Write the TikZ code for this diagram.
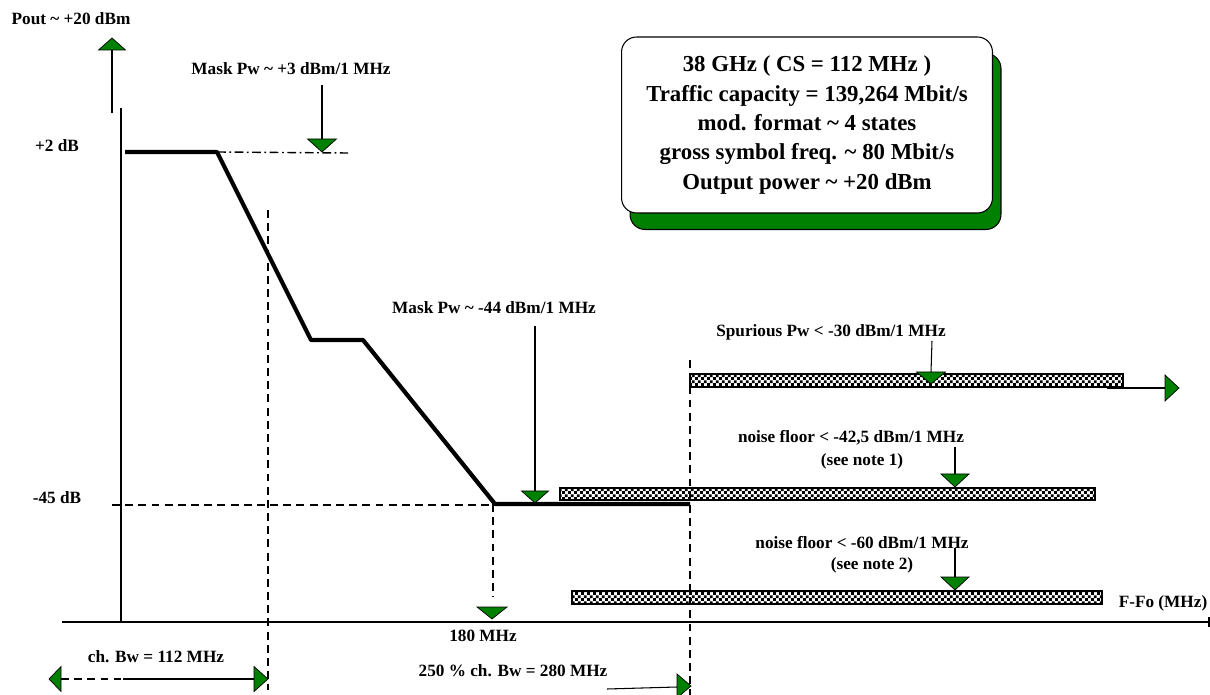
\documentclass[tikz,border=0pt]{standalone}
\usepackage{fontspec}
\setmainfont{Liberation Serif}
\usetikzlibrary{patterns.meta,shadows}
\definecolor{maskgreen}{RGB}{0,128,0}

\tikzdeclarepattern{
  name=barcheck,
  type=uncolored,
  bottom left={(0pt,0pt)},
  top right={(3.6pt,3.6pt)},
  tile size={(3.6pt,3.6pt)},
  code={
    \fill (0pt,0pt) rectangle (1.8pt,1.8pt);
    \fill (1.8pt,1.8pt) rectangle (3.6pt,3.6pt);
  }
}

\begin{document}
\begin{tikzpicture}[x=0.02cm,y=-0.02cm]

	\tikzstyle{lbl} = [font=\fontsize{9.8}{11}\selectfont\bfseries, inner sep=0pt]
	\tikzstyle{infobox} = [rectangle, rounded corners=0.3cm, minimum width=7.42cm, minimum height=3.52cm, align=center, draw=black, fill=white, line width=0.6pt, font=\fontsize{13}{16.7}\selectfont\bfseries, drop shadow={shadow xshift=0.17cm, shadow yshift=-0.33cm, fill=maskgreen, draw=black, opacity=1}]
	\tikzstyle{mask} = [line width=2.4pt, line join=round]
	\tikzstyle{guide} = [line width=0.8pt, dash pattern=on 4.5pt off 3pt]
	\tikzstyle{dashdot} = [line width=0.8pt, dash pattern=on 5pt off 2pt on 1pt off 2pt]
	\tikzstyle{axisline} = [line width=0.6pt]
	\tikzstyle{tri} = [fill=maskgreen, draw=black, line width=0.4pt]
	\tikzstyle{hatchbar} = [draw=black, line width=1.4pt, pattern=barcheck]

	\useasboundingbox (0,0) rectangle (1210,695);

	% hatched limits
	\draw[hatchbar] (690,374) rectangle (1123,387);
	\draw[hatchbar] (560,488) rectangle (1095,500);
	\draw[hatchbar] (572,591) rectangle (1102,604);

	% axes
	\coordinate (xa) at (62,622);
	\coordinate (xb) at (1209,622);
	\draw[axisline] (xa) -- (xb);
	\draw[axisline] (1209,617) -- (1209,627);
	\draw[axisline] (121,108) -- (121,622);
	\coordinate (pw) at (112,38);
	\draw[axisline] (112,113) -- (112,50);
	\filldraw[tri] (pw) -- ++(-13.5,12) -- ++(27,0) -- cycle;

	% guide lines
	\draw[guide] (112,505) -- (495,505);
	\draw[guide] (268,210) -- (268,690);
	\draw[guide] (690,360) -- (690,695);
	\draw[guide] (493,504) -- (493,597);

	% spectrum mask
	\coordinate (k1) at (217,152);
	\coordinate (k2) at (311,340);
	\coordinate (k3) at (363,340);
	\coordinate (k4) at (495,504);
	\draw[mask] (125,152) -- (k1) -- (k2) -- (k3) -- (k4) -- (690,504);
	\draw[dashdot] (k1) -- (348,153);

	% labels
	\node[lbl] (pout) at (71,19) {Pout \textasciitilde{} +20 dBm};
	\node[lbl] (top) at (57,146) {+2 dB};
	\node[lbl] (low) at (57,498) {-45 dB};
	\node[lbl] (m3lbl) at (291,69) {Mask Pw \textasciitilde{} +3 dBm/1 MHz};
	\node[lbl] (m44lbl) at (494,308) {Mask Pw \textasciitilde{} -44 dBm/1 MHz};
	\node[lbl] (splbl) at (831,332) {Spurious Pw < -30 dBm/1 MHz};
	\node[lbl] (n1lbl) at (851,438) {noise floor < -42,5 dBm/1 MHz};
	\node[lbl] (n1note) at (862,461) {(see note 1)};
	\node[lbl] (n2lbl) at (862,543) {noise floor < -60 dBm/1 MHz};
	\node[lbl] (n2note) at (872,565) {(see note 2)};
	\node[lbl] (fx) at (1163,603) {F-Fo (MHz)};
	\node[lbl] (f180lbl) at (483,636) {180 MHz};
	\node[lbl] (chbw) at (156,657) {ch. Bw = 112 MHz};
	\node[lbl] (bw250) at (513,671) {250 \% ch. Bw = 280 MHz};

	% markers
	\coordinate (m3) at (322,152);
	\draw[axisline] (322,85) -- (322,139);
	\filldraw[tri] (m3) -- ++(-14.5,-13) -- ++(29,0) -- cycle;

	\coordinate (m44) at (535,503);
	\draw[axisline] (535,326) -- (535,491);
	\filldraw[tri] (m44) -- ++(-13.5,-12) -- ++(27,0) -- cycle;

	\coordinate (sp) at (931,384);
	\draw[axisline] (932,341) -- (931,372);
	\filldraw[tri] (sp) -- ++(-14.5,-12) -- ++(29,0) -- cycle;
	\draw[axisline] (1107,388) -- (1165,388);
	\filldraw[tri] (1179,388) -- ++(-14,-13) -- ++(0,26) -- cycle;

	\coordinate (n1) at (955,487);
	\draw[axisline] (955,447) -- (955,474);
	\filldraw[tri] (n1) -- ++(-14,-13) -- ++(28,0) -- cycle;

	\coordinate (n2) at (955,590);
	\draw[axisline] (955,548) -- (955,577);
	\filldraw[tri] (n2) -- ++(-14,-13) -- ++(28,0) -- cycle;

	\coordinate (f180) at (492,619);
	\filldraw[tri] (f180) -- ++(-15,-12) -- ++(30,0) -- cycle;

	% bandwidth arrows
	\coordinate (bwl) at (49,679);
	\coordinate (bwr) at (268,679);
	\filldraw[tri] (bwl) -- ++(12,-12.5) -- ++(0,25) -- cycle;
	\draw[guide, line width=0.6pt] (61,679) -- (121,679);
	\draw[axisline] (123,679) -- (254,679);
	\filldraw[tri] (bwr) -- ++(-14,-12.5) -- ++(0,25) -- cycle;

	\coordinate (bw2) at (691,686);
	\draw[axisline] (607,689) -- (677,687);
	\filldraw[tri] (bw2) -- ++(-14,-12) -- ++(0,24) -- cycle;

	% info box
	\node[infobox] (info) at (807,125) {38 GHz ( CS = 112 MHz )\\ Traffic capacity = 139,264 Mbit/s\\ mod. format \textasciitilde{} 4 states\\ gross symbol freq. \textasciitilde{} 80 Mbit/s\\ Output power \textasciitilde{} +20 dBm};

\end{tikzpicture}
\end{document}
